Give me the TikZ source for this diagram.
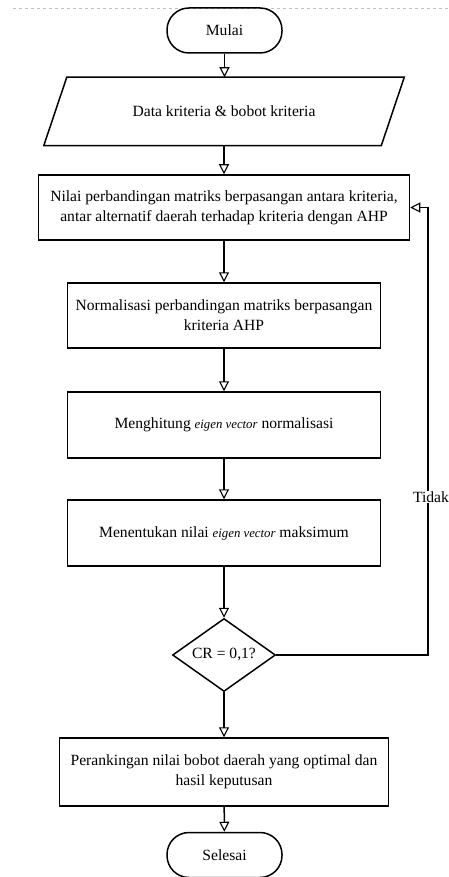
\documentclass[tikz,border=0pt]{standalone}
\usepackage{fontspec}
\setmainfont{Liberation Serif}
\usetikzlibrary{arrows.meta,shapes.geometric}
\tikzset{
  flow/.style={draw, line width=1.5pt, align=center, inner sep=2pt,
    font=\fontsize{15.6}{20}\selectfont},
  procbox/.style={flow, rectangle},
  termbox/.style={flow, rectangle, rounded corners=22pt,
    minimum width=115pt, minimum height=45pt},
  decbox/.style={flow, diamond, aspect=1.41, inner sep=0pt,
    minimum width=103pt, minimum height=73pt},
  arr/.style={line width=1.5pt, -{Triangle[open, length=10pt, width=10pt, line width=1.1pt]}},
}
\newcommand{\ev}{{\fontsize{12.8}{20}\selectfont\itshape eigen vector}}
\begin{document}
\begin{tikzpicture}[x=1pt, y=-1pt]
  \useasboundingbox (0,0) rectangle (448,877);
  % faint page edge along the top
  \draw[black!25, dashed, line width=0.6pt] (13,8) -- (448,8);

  \node[termbox] (mulai) at (224.5,30.5) {Mulai};

  % input/output block: text node plus a slanted outline
  \node[flow, draw=none, minimum width=336pt, minimum height=67pt] (data) at (224,111.5)
    {Data kriteria \& bobot kriteria};
  \draw[line width=1.5pt]
    ([xshift=11.5pt]data.north west) -- ([xshift=11.5pt]data.north east)
    -- ([xshift=-11.5pt]data.south east) -- ([xshift=-11.5pt]data.south west) -- cycle;

  \node[procbox, minimum width=371pt, minimum height=65pt] (nilai) at (224,207.5)
    {Nilai perbandingan matriks berpasangan antara kriteria,\\
     antar alternatif daerah terhadap kriteria dengan AHP};
  \node[procbox, minimum width=313pt, minimum height=65pt] (norm) at (224,315.5)
    {Normalisasi perbandingan matriks berpasangan\\ kriteria AHP};
  \node[procbox, minimum width=313pt, minimum height=66pt] (hitung) at (224,425)
    {Menghitung \ev{} normalisasi};
  \node[procbox, minimum width=313pt, minimum height=66pt] (maks) at (224,533)
    {Menentukan nilai \ev{} maksimum};
  \node[decbox] (cr) at (224,655) {CR = 0,1?};
  \node[procbox, minimum width=329pt, minimum height=68pt] (rank) at (224,772)
    {Perankingan nilai bobot daerah yang optimal dan\\ hasil keputusan};
  \node[termbox] (selesai) at (224.5,855) {Selesai};

  \draw[arr] (mulai) -- (mulai |- data.north);
  \draw[arr] (data) -- (nilai);
  \draw[arr] (nilai) -- (norm);
  \draw[arr] (norm) -- (hitung);
  \draw[arr] (hitung) -- (maks);
  \draw[arr] (maks) -- (cr);
  \draw[arr] (cr) -- (rank);
  \draw[arr] (rank) -- (selesai);

  % loop back when the consistency check fails
  \coordinate (back) at (428,655);
  \draw[arr] (cr.east) -- (back) |- (nilai.east);
  \node[fill=white, inner sep=1pt, font=\fontsize{15.6}{18}\selectfont] (tidak) at (431,497) {Tidak};
\end{tikzpicture}
\end{document}
